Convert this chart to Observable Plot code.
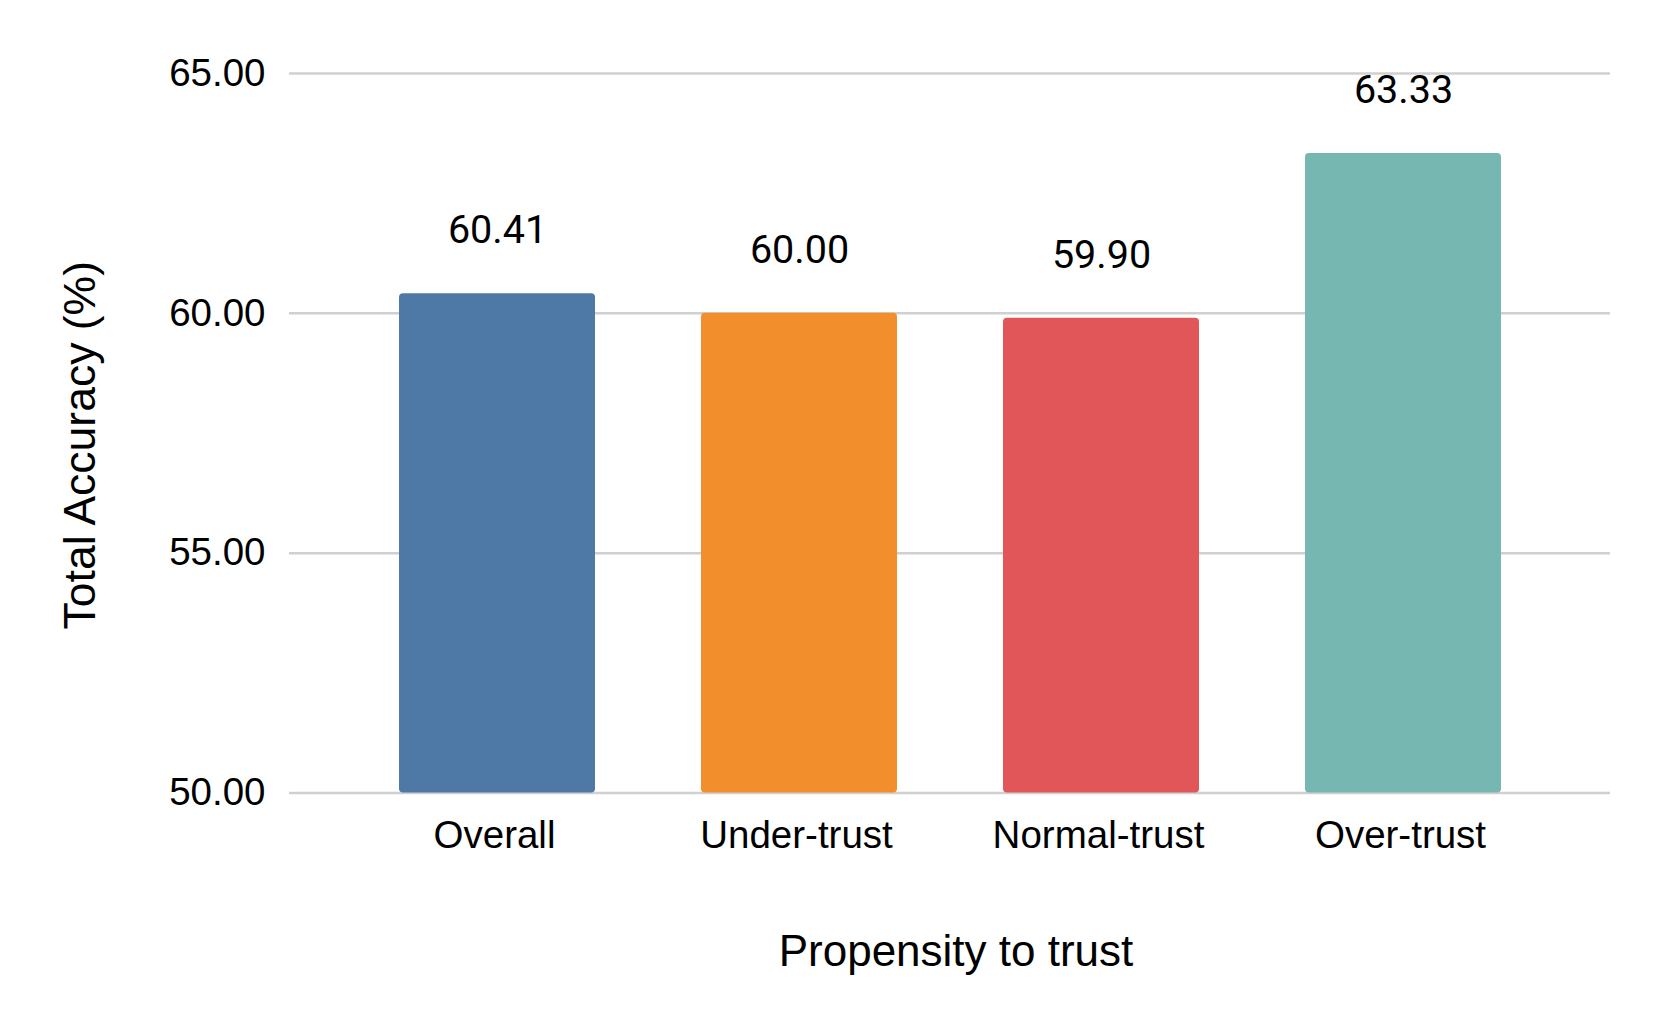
<!DOCTYPE html>
<html>
<head>
<meta charset="utf-8">
<script src="https://cdn.jsdelivr.net/npm/d3@7"></script>
<script src="https://cdn.jsdelivr.net/npm/@observablehq/plot@0.6"></script>
<style>
  html, body { margin: 0; padding: 0; background: #ffffff; }
  #chart svg { display: block; }
</style>
</head>
<body>
<div id="chart"></div>
<script>
// ---- data ----
const categories = ["Overall", "Under-trust", "Normal-trust", "Over-trust"];
const accuracy = [60.41, 60.00, 59.90, 63.33];
const barColors = ["#4E79A7", "#F28E2B", "#E15759", "#76B7B2"];
const yTicks = [50, 55, 60, 65];
const yDomain = [50, 65];
const xTitle = "Propensity to trust";
const yTitle = "Total Accuracy (%)";

const rows = categories.map((c, i) => ({category: c, value: accuracy[i]}));
const arial = "'Liberation Sans', Arial, sans-serif";

const chart = Plot.plot({
  width: 1661,
  height: 1027,
  marginTop: 73,
  marginBottom: 234.5,
  marginLeft: 289,
  marginRight: 51,
  style: {background: "#ffffff", color: "#000000", fontFamily: arial, fontSize: "38px"},
  x: {domain: categories, paddingInner: 0.352, paddingOuter: 0.36, label: null},
  y: {domain: yDomain, label: null},
  color: {domain: categories, range: barColors},
  marks: [
    Plot.ruleY(yTicks, {stroke: "#d0d0d0", strokeWidth: 2.5}),
    Plot.barY(rows, {x: "category", y1: yDomain[0], y2: "value", fill: "category", rx: 4}),
    Plot.text(rows, {x: "category", y: "value", text: d => d.value.toFixed(2), dy: -63,
      fontSize: 39.5, fontFamily: "Roboto, sans-serif", fill: "#000000"}),
    Plot.axisY(yTicks, {tickSize: 0, tickPadding: 24, tickFormat: d => d.toFixed(2), fontSize: 38.5,
      fontFamily: arial, label: null}),
    Plot.axisX({tickSize: 0, tickPadding: 28, fontSize: 38.5, fontFamily: arial, dx: -3, label: null}),
    Plot.text([yTitle], {text: d => d, frameAnchor: "left", rotate: -90, lineAnchor: "top",
      textAnchor: "middle", dx: -226, dy: 12, fontSize: 44.5, fontFamily: arial, fill: "#000000"}),
    Plot.text([xTitle], {text: d => d, frameAnchor: "bottom", lineAnchor: "bottom",
      dx: 6, dy: 172.5, fontSize: 44, fontFamily: arial, fill: "#000000"})
  ]
});
document.getElementById("chart").appendChild(chart);
</script>
</body>
</html>
